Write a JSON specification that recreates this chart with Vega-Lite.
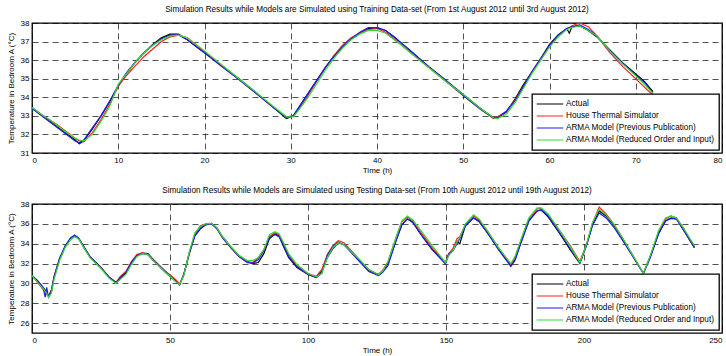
{
  "$schema": "https://vega.github.io/schema/vega-lite/v6.json",
  "background": "white",
  "padding": {"left": 6, "top": 4, "right": 3, "bottom": 2},
  "datasets": {
    "train": [
      {"t": 0, "a": 33.45, "h": 33.4, "p": 33.4, "r": 33.45},
      {"t": 1, "a": 33.1, "h": 33.1, "p": 33.05, "r": 33.1},
      {"t": 2, "a": 32.75, "h": 32.8, "p": 32.7, "r": 32.8},
      {"t": 3, "a": 32.4, "h": 32.5, "p": 32.35, "r": 32.45},
      {"t": 4, "a": 32.05, "h": 32.15, "p": 32.0, "r": 32.1},
      {"t": 5, "a": 31.7, "h": 31.8, "p": 31.65, "r": 31.8},
      {"t": 5.5, "a": 31.5, "h": 31.65, "p": 31.55, "r": 31.7},
      {"t": 6, "a": 31.65, "h": 31.6, "p": 31.7, "r": 31.65},
      {"t": 7, "a": 32.3, "h": 32.1, "p": 32.35, "r": 32.0},
      {"t": 8, "a": 33.0, "h": 32.8, "p": 33.0, "r": 32.7},
      {"t": 9, "a": 33.75, "h": 33.6, "p": 33.8, "r": 33.5},
      {"t": 10, "a": 34.6, "h": 34.6, "p": 34.65, "r": 34.7},
      {"t": 11, "a": 35.3, "h": 35.2, "p": 35.35, "r": 35.3},
      {"t": 12, "a": 35.9, "h": 35.7, "p": 35.9, "r": 35.9},
      {"t": 13, "a": 36.4, "h": 36.2, "p": 36.4, "r": 36.4},
      {"t": 14, "a": 36.85, "h": 36.6, "p": 36.8, "r": 36.8},
      {"t": 15, "a": 37.2, "h": 37.0, "p": 37.15, "r": 37.1},
      {"t": 16, "a": 37.4, "h": 37.25, "p": 37.35, "r": 37.3},
      {"t": 17, "a": 37.4, "h": 37.35, "p": 37.35, "r": 37.35},
      {"t": 18, "a": 37.1, "h": 37.2, "p": 37.1, "r": 37.2},
      {"t": 19, "a": 36.75, "h": 36.85, "p": 36.75, "r": 36.85},
      {"t": 20, "a": 36.4, "h": 36.45, "p": 36.4, "r": 36.5},
      {"t": 22, "a": 35.7, "h": 35.7, "p": 35.65, "r": 35.75},
      {"t": 24, "a": 35.0, "h": 34.95, "p": 34.95, "r": 35.0},
      {"t": 26, "a": 34.25, "h": 34.2, "p": 34.2, "r": 34.25},
      {"t": 28, "a": 33.45, "h": 33.45, "p": 33.45, "r": 33.5},
      {"t": 29.5, "a": 32.85, "h": 32.95, "p": 32.9, "r": 32.95},
      {"t": 30.3, "a": 33.0, "h": 33.0, "p": 33.0, "r": 32.95},
      {"t": 31, "a": 33.5, "h": 33.4, "p": 33.5, "r": 33.35},
      {"t": 32, "a": 34.2, "h": 34.1, "p": 34.2, "r": 34.0},
      {"t": 33, "a": 34.9, "h": 34.85, "p": 34.9, "r": 34.7},
      {"t": 34, "a": 35.6, "h": 35.6, "p": 35.6, "r": 35.45},
      {"t": 35, "a": 36.2, "h": 36.25, "p": 36.2, "r": 36.1},
      {"t": 36, "a": 36.7, "h": 36.8, "p": 36.7, "r": 36.65},
      {"t": 37, "a": 37.15, "h": 37.2, "p": 37.15, "r": 37.1},
      {"t": 38, "a": 37.45, "h": 37.45, "p": 37.5, "r": 37.4},
      {"t": 39, "a": 37.7, "h": 37.65, "p": 37.75, "r": 37.6},
      {"t": 40, "a": 37.75, "h": 37.7, "p": 37.75, "r": 37.6},
      {"t": 41, "a": 37.6, "h": 37.5, "p": 37.6, "r": 37.45},
      {"t": 42, "a": 37.25, "h": 37.15, "p": 37.25, "r": 37.1},
      {"t": 43, "a": 36.85, "h": 36.75, "p": 36.85, "r": 36.75},
      {"t": 44, "a": 36.45, "h": 36.35, "p": 36.45, "r": 36.35},
      {"t": 46, "a": 35.65, "h": 35.6, "p": 35.65, "r": 35.6},
      {"t": 48, "a": 34.9, "h": 34.85, "p": 34.9, "r": 34.85},
      {"t": 50, "a": 34.15, "h": 34.1, "p": 34.1, "r": 34.15},
      {"t": 52, "a": 33.4, "h": 33.35, "p": 33.35, "r": 33.4},
      {"t": 53.5, "a": 32.9, "h": 32.85, "p": 32.9, "r": 32.9},
      {"t": 54, "a": 32.9, "h": 32.95, "p": 32.9, "r": 32.85},
      {"t": 55, "a": 33.2, "h": 33.25, "p": 33.25, "r": 33.1},
      {"t": 56, "a": 33.9, "h": 33.85, "p": 33.8, "r": 33.7},
      {"t": 57, "a": 34.7, "h": 34.6, "p": 34.6, "r": 34.5},
      {"t": 58, "a": 35.4, "h": 35.4, "p": 35.4, "r": 35.3},
      {"t": 59, "a": 36.1, "h": 36.1, "p": 36.1, "r": 36.0},
      {"t": 60, "a": 36.85, "h": 36.75, "p": 36.8, "r": 36.7},
      {"t": 61, "a": 37.35, "h": 37.3, "p": 37.35, "r": 37.25},
      {"t": 62, "a": 37.7, "h": 37.7, "p": 37.7, "r": 37.65},
      {"t": 62.3, "a": 37.45, "h": 37.75, "p": 37.75, "r": 37.7},
      {"t": 62.6, "a": 37.8, "h": 37.85, "p": 37.8, "r": 37.75},
      {"t": 63.5, "a": 37.85, "h": 38.0, "p": 37.9, "r": 37.85},
      {"t": 64.5, "a": 37.6, "h": 37.8, "p": 37.65, "r": 37.6},
      {"t": 65.5, "a": 37.25, "h": 37.3, "p": 37.3, "r": 37.3},
      {"t": 67, "a": 36.55, "h": 36.4, "p": 36.5, "r": 36.5},
      {"t": 68.5, "a": 35.85, "h": 35.65, "p": 35.8, "r": 35.8},
      {"t": 70, "a": 35.25, "h": 35.0, "p": 35.2, "r": 35.15},
      {"t": 71, "a": 34.85, "h": 34.55, "p": 34.8, "r": 34.7},
      {"t": 72, "a": 34.3, "h": 34.1, "p": 34.25, "r": 34.2}
    ],
    "test": [
      {"t": 0, "a": 30.8, "h": 30.8, "p": 30.8, "r": 30.8},
      {"t": 2, "a": 30.2, "h": 30.1, "p": 30.3, "r": 30.1},
      {"t": 4, "a": 29.6, "h": 29.4, "p": 29.6, "r": 29.5},
      {"t": 4.8, "a": 29.3, "h": 29.1, "p": 28.6, "r": 29.2},
      {"t": 5.3, "a": 29.0, "h": 28.9, "p": 29.6, "r": 29.0},
      {"t": 6, "a": 28.7, "h": 28.7, "p": 28.6, "r": 28.6},
      {"t": 7, "a": 29.3, "h": 29.2, "p": 29.1, "r": 29.0},
      {"t": 8, "a": 30.7, "h": 30.6, "p": 30.6, "r": 30.4},
      {"t": 10, "a": 32.5, "h": 32.4, "p": 32.5, "r": 32.3},
      {"t": 12, "a": 33.7, "h": 33.7, "p": 33.8, "r": 33.6},
      {"t": 14, "a": 34.5, "h": 34.5, "p": 34.6, "r": 34.4},
      {"t": 15.5, "a": 34.85, "h": 34.8, "p": 34.85, "r": 34.7},
      {"t": 17, "a": 34.5, "h": 34.5, "p": 34.5, "r": 34.45},
      {"t": 19, "a": 33.6, "h": 33.5, "p": 33.55, "r": 33.5},
      {"t": 21, "a": 32.7, "h": 32.65, "p": 32.7, "r": 32.6},
      {"t": 25, "a": 31.6, "h": 31.55, "p": 31.55, "r": 31.5},
      {"t": 28, "a": 30.6, "h": 30.6, "p": 30.6, "r": 30.5},
      {"t": 30.5, "a": 30.1, "h": 30.1, "p": 30.1, "r": 30.0},
      {"t": 32, "a": 30.5, "h": 30.7, "p": 30.6, "r": 30.4},
      {"t": 34, "a": 31.0, "h": 31.2, "p": 31.1, "r": 30.9},
      {"t": 36, "a": 32.0, "h": 32.2, "p": 32.1, "r": 31.9},
      {"t": 38, "a": 32.8, "h": 32.9, "p": 32.8, "r": 32.7},
      {"t": 40, "a": 33.05, "h": 33.1, "p": 33.0, "r": 33.0},
      {"t": 42, "a": 33.0, "h": 32.9, "p": 32.9, "r": 32.9},
      {"t": 44, "a": 32.4, "h": 32.3, "p": 32.3, "r": 32.3},
      {"t": 48, "a": 31.3, "h": 31.3, "p": 31.2, "r": 31.2},
      {"t": 52, "a": 30.3, "h": 30.4, "p": 30.2, "r": 30.2},
      {"t": 53.5, "a": 29.85, "h": 29.95, "p": 29.9, "r": 29.9},
      {"t": 55, "a": 30.9, "h": 30.9, "p": 30.9, "r": 30.8},
      {"t": 57, "a": 33.0, "h": 33.0, "p": 33.1, "r": 33.2},
      {"t": 59, "a": 34.8, "h": 35.0, "p": 34.8, "r": 35.1},
      {"t": 61, "a": 35.5, "h": 35.8, "p": 35.6, "r": 35.7},
      {"t": 63, "a": 35.9, "h": 36.0, "p": 35.95, "r": 36.0},
      {"t": 65, "a": 36.05, "h": 36.05, "p": 36.0, "r": 36.05},
      {"t": 67, "a": 35.6, "h": 35.5, "p": 35.5, "r": 35.6},
      {"t": 69, "a": 34.7, "h": 34.6, "p": 34.6, "r": 34.7},
      {"t": 72, "a": 33.7, "h": 33.6, "p": 33.6, "r": 33.7},
      {"t": 75, "a": 32.8, "h": 32.7, "p": 32.7, "r": 32.8},
      {"t": 78, "a": 32.2, "h": 32.2, "p": 32.1, "r": 32.3},
      {"t": 80, "a": 32.0, "h": 32.1, "p": 32.05, "r": 32.3},
      {"t": 82, "a": 32.1, "h": 32.6, "p": 32.4, "r": 32.6},
      {"t": 84, "a": 33.0, "h": 33.4, "p": 33.3, "r": 33.4},
      {"t": 86, "a": 34.5, "h": 34.7, "p": 34.6, "r": 34.9},
      {"t": 88, "a": 35.0, "h": 35.1, "p": 34.9, "r": 35.2},
      {"t": 89.5, "a": 34.8, "h": 34.9, "p": 34.7, "r": 35.0},
      {"t": 91, "a": 33.8, "h": 34.1, "p": 33.9, "r": 34.2},
      {"t": 93, "a": 32.6, "h": 32.9, "p": 32.7, "r": 33.0},
      {"t": 96, "a": 31.6, "h": 31.8, "p": 31.7, "r": 31.9},
      {"t": 100, "a": 30.9, "h": 31.0, "p": 30.9, "r": 31.0},
      {"t": 103, "a": 30.6, "h": 30.7, "p": 30.6, "r": 30.65},
      {"t": 105, "a": 31.2, "h": 31.4, "p": 31.0, "r": 31.0},
      {"t": 107, "a": 32.6, "h": 32.9, "p": 32.8, "r": 32.6},
      {"t": 109, "a": 33.5, "h": 33.8, "p": 33.7, "r": 33.6},
      {"t": 111, "a": 34.1, "h": 34.3, "p": 34.15, "r": 34.1},
      {"t": 113, "a": 33.9, "h": 34.1, "p": 33.9, "r": 33.9},
      {"t": 116, "a": 33.1, "h": 33.2, "p": 33.0, "r": 33.1},
      {"t": 119, "a": 32.2, "h": 32.3, "p": 32.1, "r": 32.3},
      {"t": 122, "a": 31.3, "h": 31.4, "p": 31.2, "r": 31.4},
      {"t": 125.5, "a": 30.9, "h": 30.9, "p": 30.8, "r": 30.9},
      {"t": 127, "a": 31.2, "h": 31.3, "p": 31.1, "r": 31.2},
      {"t": 129, "a": 32.0, "h": 32.2, "p": 31.8, "r": 32.2},
      {"t": 132, "a": 34.4, "h": 34.7, "p": 34.4, "r": 34.7},
      {"t": 134, "a": 35.9, "h": 36.2, "p": 35.9, "r": 36.3},
      {"t": 136, "a": 36.5, "h": 36.7, "p": 36.5, "r": 36.8},
      {"t": 138, "a": 36.2, "h": 36.3, "p": 36.1, "r": 36.4},
      {"t": 141, "a": 34.9, "h": 35.1, "p": 34.9, "r": 35.3},
      {"t": 145, "a": 33.4, "h": 33.6, "p": 33.4, "r": 33.8},
      {"t": 149.8, "a": 32.0, "h": 32.1, "p": 32.0, "r": 32.1},
      {"t": 151, "a": 33.0, "h": 33.0, "p": 32.9, "r": 32.8},
      {"t": 152.5, "a": 33.3, "h": 33.5, "p": 33.3, "r": 33.3},
      {"t": 154, "a": 34.2, "h": 34.5, "p": 34.0, "r": 34.2},
      {"t": 155, "a": 34.0, "h": 34.7, "p": 34.5, "r": 34.6},
      {"t": 157, "a": 35.8, "h": 35.9, "p": 35.8, "r": 36.0},
      {"t": 160, "a": 36.6, "h": 36.8, "p": 36.6, "r": 36.9},
      {"t": 162, "a": 36.3, "h": 36.4, "p": 36.2, "r": 36.5},
      {"t": 165, "a": 35.1, "h": 35.3, "p": 35.1, "r": 35.3},
      {"t": 169, "a": 33.5, "h": 33.6, "p": 33.4, "r": 33.6},
      {"t": 173.5, "a": 31.8, "h": 31.9, "p": 31.7, "r": 32.0},
      {"t": 175, "a": 32.4, "h": 32.6, "p": 32.3, "r": 32.7},
      {"t": 177, "a": 34.0, "h": 34.2, "p": 34.0, "r": 34.3},
      {"t": 180, "a": 36.3, "h": 36.5, "p": 36.3, "r": 36.6},
      {"t": 183, "a": 37.3, "h": 37.5, "p": 37.3, "r": 37.6},
      {"t": 184.5, "a": 37.4, "h": 37.55, "p": 37.4, "r": 37.6},
      {"t": 187, "a": 36.7, "h": 36.9, "p": 36.8, "r": 37.0},
      {"t": 191, "a": 35.1, "h": 35.4, "p": 35.2, "r": 35.4},
      {"t": 195, "a": 33.4, "h": 33.8, "p": 33.5, "r": 33.7},
      {"t": 198.5, "a": 32.0, "h": 32.2, "p": 32.1, "r": 32.1},
      {"t": 201, "a": 33.9, "h": 34.0, "p": 33.9, "r": 34.0},
      {"t": 203, "a": 35.8, "h": 36.0, "p": 35.8, "r": 36.1},
      {"t": 205.5, "a": 37.3, "h": 37.7, "p": 37.1, "r": 37.5},
      {"t": 208, "a": 36.8, "h": 37.0, "p": 36.6, "r": 36.9},
      {"t": 211, "a": 35.8, "h": 35.9, "p": 35.6, "r": 35.9},
      {"t": 215, "a": 34.0, "h": 34.1, "p": 33.9, "r": 34.1},
      {"t": 219, "a": 32.2, "h": 32.2, "p": 32.1, "r": 32.2},
      {"t": 221.5, "a": 31.0, "h": 31.0, "p": 31.0, "r": 31.0},
      {"t": 224, "a": 32.7, "h": 32.6, "p": 32.6, "r": 32.8},
      {"t": 227, "a": 35.0, "h": 35.2, "p": 35.0, "r": 35.3},
      {"t": 229.5, "a": 36.3, "h": 36.5, "p": 36.3, "r": 36.6},
      {"t": 231.5, "a": 36.55, "h": 36.8, "p": 36.6, "r": 36.8},
      {"t": 233.5, "a": 36.5, "h": 36.6, "p": 36.5, "r": 36.6},
      {"t": 236, "a": 35.4, "h": 35.6, "p": 35.4, "r": 35.6},
      {"t": 238, "a": 34.5, "h": 34.6, "p": 34.5, "r": 34.7},
      {"t": 240, "a": 33.6, "h": 33.7, "p": 33.6, "r": 33.8}
    ]
  },
  "config": {
    "font": "Liberation Sans",
    "view": {"stroke": "black", "strokeWidth": 1.3},
    "axis": {
      "labelFontSize": 8, "titleFontSize": 8, "titleFontWeight": "normal",
      "labelColor": "black", "titleColor": "black",
      "domain": false, "ticks": false,
      "grid": true, "gridColor": "black", "gridDash": [6, 4], "gridOpacity": 0.85, "gridWidth": 0.8,
      "labelPadding": 3
    },
    "axisX": {"titlePadding": 2},
    "axisY": {"titlePadding": 5},
    "title": {"fontSize": 8.2, "fontWeight": "normal", "color": "black", "offset": 5},
    "legend": {
      "symbolType": "stroke", "symbolSize": 700, "symbolStrokeWidth": 1.3,
      "clipHeight": 12, "labelFontSize": 8.2, "labelColor": "black",
      "fillColor": "white", "strokeColor": "black", "strokeWidth": 1.3,
      "padding": 4, "offset": 3, "labelOffset": 2, "rowPadding": 0, "labelLimit": 300
    },
    "line": {"strokeWidth": 1.2}
  },
  "resolve": {"scale": {"color": "independent"}, "legend": {"color": "independent"}},
  "spacing": 10,
  "vconcat": [
    {
      "title": "Simulation Results while Models are Simulated using Training Data-set (From 1st August 2012 until 3rd August 2012)",
      "data": {"name": "train"},
      "transform": [{"fold": ["a", "h", "p", "r"], "as": ["s", "v"]}],
      "width": 690,
      "height": 130,
      "mark": {"type": "line", "clip": true},
      "encoding": {
        "x": {"field": "t", "type": "quantitative", "scale": {"domain": [0, 80], "nice": false},
              "axis": {"values": [0, 10, 20, 30, 40, 50, 60, 70, 80], "title": "Time (h)"}},
        "y": {"field": "v", "type": "quantitative", "scale": {"domain": [31, 38], "nice": false, "zero": false},
              "axis": {"values": [31, 32, 33, 34, 35, 36, 37, 38], "title": "Temperature in Bedroom A (°C)"}},
        "color": {"field": "s", "type": "nominal",
                  "scale": {"domain": ["a", "h", "p", "r"], "range": ["#000000", "#ff2020", "#1a1aff", "#33dd33"]},
                  "legend": {"title": null, "orient": "bottom-right",
                             "labelExpr": "datum.value == 'a' ? 'Actual' : datum.value == 'h' ? 'House Thermal Simulator' : datum.value == 'p' ? 'ARMA Model (Previous Publication)' : 'ARMA Model (Reduced Order and Input)'"}}
      }
    },
    {
      "title": "Simulation Results while Models are Simulated using Testing Data-set (From 10th August 2012 until 19th August 2012)",
      "data": {"name": "test"},
      "transform": [{"fold": ["a", "h", "p", "r"], "as": ["s", "v"]}],
      "width": 690,
      "height": 129,
      "mark": {"type": "line", "clip": true},
      "encoding": {
        "x": {"field": "t", "type": "quantitative", "scale": {"domain": [0, 250], "nice": false},
              "axis": {"values": [0, 50, 100, 150, 200, 250], "title": "Time (h)"}},
        "y": {"field": "v", "type": "quantitative", "scale": {"domain": [25, 38], "nice": false, "zero": false},
              "axis": {"values": [26, 28, 30, 32, 34, 36, 38], "title": "Temperature in Bedroom A (°C)"}},
        "color": {"field": "s", "type": "nominal",
                  "scale": {"domain": ["a", "h", "p", "r"], "range": ["#000000", "#ff2020", "#1a1aff", "#33dd33"]},
                  "legend": {"title": null, "orient": "bottom-right",
                             "labelExpr": "datum.value == 'a' ? 'Actual' : datum.value == 'h' ? 'House Thermal Simulator' : datum.value == 'p' ? 'ARMA Model (Previous Publication)' : 'ARMA Model (Reduced Order and Input)'"}}
      }
    }
  ]
}
